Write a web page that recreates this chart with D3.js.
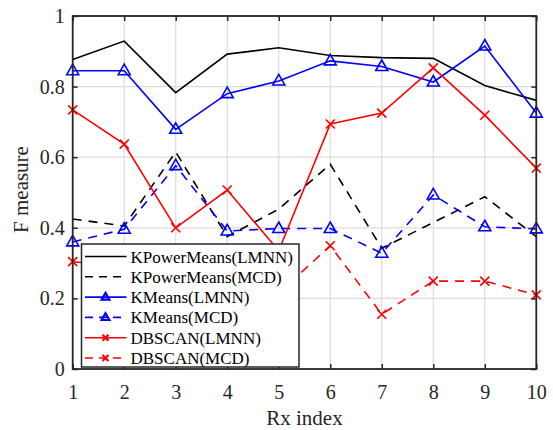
<!DOCTYPE html>
<html><head><meta charset="utf-8">
<script src="https://cdn.jsdelivr.net/npm/d3@7"></script>
<style>
html,body{margin:0;padding:0;background:#fff;}
svg text{font-family:"Liberation Serif","Times New Roman",serif !important;}
</style></head>
<body><svg id="c" width="553" height="430"></svg>
<script>
const rxIndex = [1,2,3,4,5,6,7,8,9,10];
const yTicks = [0,0.2,0.4,0.6,0.8,1];
const yTickLabels = ["0","0.2","0.4","0.6","0.8","1"];
const kpmLMNN = [0.877,0.929,0.783,0.892,0.910,0.888,0.882,0.880,0.803,0.761];
const kpmMCD  = [0.425,0.405,0.615,0.375,0.453,0.580,0.342,0.415,0.488,0.375];
const kmLMNN  = [0.845,0.845,0.679,0.780,0.816,0.873,0.857,0.813,0.915,0.725];
const kmMCD   = [0.360,0.396,0.576,0.391,0.398,0.398,0.328,0.493,0.403,0.397];
const dbLMNN  = [0.734,0.637,0.400,0.507,0.335,0.694,0.725,0.853,0.719,0.569];
const dbMCD   = [0.304,0.290,0.250,0.220,0.215,0.349,0.155,0.249,0.249,0.210];
const seriesNames = ["KPowerMeans(LMNN)","KPowerMeans(MCD)","KMeans(LMNN)","KMeans(MCD)","DBSCAN(LMNN)","DBSCAN(MCD)"];

const DASH = "9,7";
const series = [
  {name:seriesNames[0], values:kpmLMNN, color:"#000000", dash:null, marker:null},
  {name:seriesNames[1], values:kpmMCD,  color:"#000000", dash:DASH, marker:null},
  {name:seriesNames[2], values:kmLMNN,  color:"#0000ff", dash:null, marker:"tri"},
  {name:seriesNames[3], values:kmMCD,   color:"#0000ff", dash:DASH, marker:"tri"},
  {name:seriesNames[4], values:dbLMNN,  color:"#ff0000", dash:null, marker:"x"},
  {name:seriesNames[5], values:dbMCD,   color:"#ff0000", dash:DASH, marker:"x"}
];

const SERIF = "'Liberation Serif','Times New Roman',serif";
const L=72.7, R=536.3, T=16, B=369;
const svg = d3.select("#c");
const x = d3.scaleLinear().domain([1,10]).range([L,R]);
const y = d3.scaleLinear().domain([0,1]).range([B,T]);
const axisColor = "#262626";

// grid
const g = svg.append("g");
g.selectAll(".gx").data(rxIndex).enter().append("line")
  .attr("x1",d=>x(d)).attr("x2",d=>x(d)).attr("y1",T).attr("y2",B)
  .attr("stroke","#dcdcdc").attr("stroke-width",1.2);
g.selectAll(".gy").data(yTicks).enter().append("line")
  .attr("x1",L).attr("x2",R).attr("y1",d=>y(d)).attr("y2",d=>y(d))
  .attr("stroke","#dcdcdc").attr("stroke-width",1.2);

// series lines
const line = d3.line().x((d,i)=>x(rxIndex[i])).y(d=>y(d));
function drawMarker(sel, type, color, cx, cy, k, sw){
  k = k||1; sw = sw||1.6;
  if(type==="tri"){
    sel.append("path").attr("d", `M0,${-6.5*k}L${6*k},${4*k}L${-6*k},${4*k}Z`)
      .attr("transform",`translate(${cx},${cy})`)
      .attr("fill","none").attr("stroke",color).attr("stroke-width",sw);
  } else if(type==="x"){
    const s=4.5*k;
    sel.append("path").attr("d",`M${-s},${-s}L${s},${s}M${-s},${s}L${s},${-s}`)
      .attr("transform",`translate(${cx},${cy})`)
      .attr("fill","none").attr("stroke",color).attr("stroke-width",sw);
  }
}
series.forEach(s=>{
  svg.append("path").datum(s.values).attr("d",line)
    .attr("fill","none").attr("stroke",s.color).attr("stroke-width",1.6)
    .attr("stroke-dasharray",s.dash);
  if(s.marker){
    const mg = svg.append("g");
    s.values.forEach((v,i)=>drawMarker(mg, s.marker, s.color, x(rxIndex[i]), y(v)));
  }
});

// axes
const xb = svg.append("g").attr("transform",`translate(0,${B})`)
  .call(d3.axisBottom(x).tickValues(rxIndex).tickFormat(d3.format("d")).tickSize(-5).tickPadding(16));
const xt = svg.append("g").attr("transform",`translate(0,${T})`)
  .call(d3.axisTop(x).tickValues(rxIndex).tickFormat("").tickSize(-5));
const yl = svg.append("g").attr("transform",`translate(${L},0)`)
  .call(d3.axisLeft(y).tickValues(yTicks).tickFormat((d,i)=>yTickLabels[i]).tickSize(-5).tickPadding(8));
const yr = svg.append("g").attr("transform",`translate(${R},0)`)
  .call(d3.axisRight(y).tickValues(yTicks).tickFormat("").tickSize(-5));
[xb,xt,yl,yr].forEach(a=>{
  a.attr("font-family",SERIF).attr("font-size",20);
  a.select(".domain").remove();
  a.selectAll(".tick line").attr("stroke",axisColor).attr("stroke-width",1.5);
  a.selectAll("text").attr("fill","#262626").attr("font-family",SERIF).attr("font-size",20);
});
svg.append("rect").attr("x",L).attr("y",T).attr("width",R-L).attr("height",B-T)
  .attr("fill","none").attr("stroke",axisColor).attr("stroke-width",1.8);

// axis labels
svg.append("text").attr("x",(L+R)/2).attr("y",425).attr("text-anchor","middle")
  .attr("font-family",SERIF).attr("font-size",21).attr("fill","#262626").text("Rx index");
svg.append("text").attr("transform",`translate(28,${(T+B)/2 - 3}) rotate(-90)`)
  .attr("text-anchor","middle").attr("font-family",SERIF).attr("font-size",21)
  .attr("fill","#262626").text("F measure");

// legend
const lg = svg.append("g");
const lx=81.5, ly=244, lw=217.5, lh=123;
lg.append("rect").attr("x",lx).attr("y",ly).attr("width",lw).attr("height",lh)
  .attr("fill","#fff").attr("stroke",axisColor).attr("stroke-width",1.5);
series.forEach((s,i)=>{
  const cy = ly + 12.5 + i*20.3;
  lg.append("line").attr("x1",85).attr("x2",126.5).attr("y1",cy).attr("y2",cy)
    .attr("stroke",s.color).attr("stroke-width",1.6).attr("stroke-dasharray",s.dash? "8,6":null);
  if(s.marker) drawMarker(lg, s.marker, s.color, 105.5, cy, 0.65, 2.2);
  lg.append("text").attr("x",130.5).attr("y",cy+6)
    .attr("font-family",SERIF).attr("font-size",17)
    .attr("fill","#000").text(s.name);
});
</script></body></html>
